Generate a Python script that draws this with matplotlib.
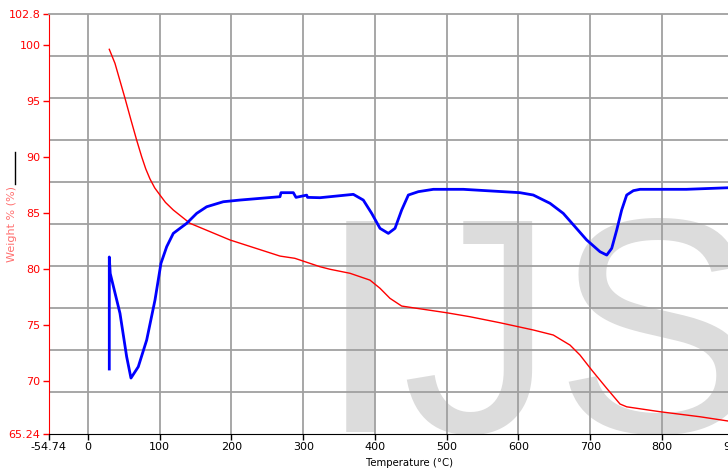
import numpy as np
import matplotlib.pyplot as plt
from matplotlib.lines import Line2D

# weight loss curve (red), temperature in degC, weight in %
weight_T = [29.7, 37.6, 51.6, 60.0, 67.8, 74.8, 80.5, 86.4, 93.0, 100.3, 108.0, 118.9,
            142.2, 197.9, 267.6, 288.3, 323.3, 337.3, 365.2, 393.0, 407.0, 420.9,
            437.2, 458.0, 500.0, 532.0, 574.0, 620.6, 648.5, 671.8, 685.7, 702.0,
            723.0, 741.5, 750.8, 797.2, 853.0, 892.0]
weight_W = [99.64, 98.39, 95.26, 93.3, 91.53, 90.04, 88.95, 88.05, 87.25, 86.61, 85.95, 85.27,
            84.08, 82.59, 81.15, 80.95, 80.2, 79.97, 79.61, 79.0, 78.27, 77.37,
            76.68, 76.48, 76.08, 75.73, 75.19, 74.54, 74.09, 73.19, 72.3, 70.96,
            69.32, 67.92, 67.67, 67.23, 66.78, 66.4]

# second signal (blue), drawn on the same scale
sig_T = [29.7, 29.7, 31.0, 44.6, 53.9, 59.9, 70.1, 81.8, 93.4, 101.7, 109.7, 118.9,
         128.2, 137.6, 151.5, 165.4, 188.6, 211.8, 267.6, 269.0, 286.2, 289.9, 304.8,
         306.0, 323.3, 337.3, 369.8, 383.7, 395.4, 407.0, 418.6, 427.9, 437.2, 446.5,
         460.4, 481.3, 523.1, 602.0, 620.6, 643.9, 662.4, 678.7, 695.0, 713.6, 723.0,
         729.9, 736.9, 743.8, 750.8, 760.1, 769.4, 834.0, 892.0]
sig_W = [71.05, 81.07, 79.6, 76.03, 72.15, 70.24, 71.25, 73.64, 77.22, 80.5, 81.99, 83.18,
         83.63, 84.08, 84.97, 85.56, 86.01, 86.16, 86.46, 86.82, 86.82, 86.4, 86.6,
         86.4, 86.37, 86.46, 86.67, 86.16, 84.97, 83.63, 83.18, 83.63, 85.27, 86.61,
         86.91, 87.12, 87.12, 86.82, 86.61, 85.87, 84.97, 83.78, 82.59, 81.54, 81.24,
         81.84, 83.48, 85.27, 86.61, 87.0, 87.12, 87.12, 87.26]

xticks = [-54.74, 0, 100, 200, 300, 400, 500, 600, 700, 800, 900]
xticklabels = ['-54.74', '0', '100', '200', '300', '400', '500', '600', '700', '800', '900']
yticks = [65.24, 70, 75, 80, 85, 90, 95, 100, 102.8]
yticklabels = ['65.24', '70', '75', '80', '85', '90', '95', '100', '102.8']
xmin, xmax = -54.74, 900
ymin, ymax = 65.24, 102.8

plt.rcParams['font.family'] = ['DejaVu Sans']
fig = plt.figure(figsize=(7.28, 4.71), dpi=100)
ax = fig.add_axes([0.0669, 0.0786, 0.941, 0.8917])

ax.set_xlim(xmin, xmax)
ax.set_ylim(ymin, ymax)

# big watermark behind everything
ax.text(0.393, 0.004, 'IJS', transform=ax.transAxes, fontsize=220,
        family='Liberation Sans', color='#dcdcdc', ha='left', va='baseline', zorder=0)

ax.plot(weight_T, weight_W, color='#ff0000', lw=1.0, zorder=3)
ax.plot(sig_T, sig_W, color='#0000ff', lw=2.0, zorder=4, solid_joinstyle='round')

ax.set_xticks(xticks)
ax.set_xticklabels(xticklabels)
ax.set_yticks(yticks)
ax.set_yticklabels(yticklabels)
ax.set_yticks(np.linspace(ymin, ymax, 11), minor=True)

ax.grid(True, which='major', axis='x', color='#a0a0a0', lw=1.3, zorder=1)
ax.grid(True, which='minor', axis='y', color='#a0a0a0', lw=1.3, zorder=1)
ax.set_axisbelow(True)

ax.tick_params(axis='y', which='major', colors='#ff0000', labelsize=8, length=4, width=1, pad=2)
ax.tick_params(axis='x', which='major', colors='black', labelsize=8, length=4, width=1, pad=2)
ax.tick_params(which='minor', length=0)

ax.spines['left'].set_color('#ff0000')
ax.spines['bottom'].set_color('black')
ax.spines['top'].set_color('#a0a0a0')
ax.spines['top'].set_linewidth(1.3)
ax.spines['right'].set_visible(False)

ax.set_xlabel('Temperature (\u00b0C)', fontsize=7.3)
ax.xaxis.set_label_coords(0.527, -0.058)
ax.set_ylabel('Weight % (%)', fontsize=8, color='#ff7070')
ax.yaxis.set_label_coords(-0.047, 0.5)

# short black sample line above the axis title
fig.add_artist(Line2D([0.021, 0.021], [0.61, 0.678], color='black', lw=1.0,
                      transform=fig.transFigure))

fig.savefig('out.png', dpi=100)
